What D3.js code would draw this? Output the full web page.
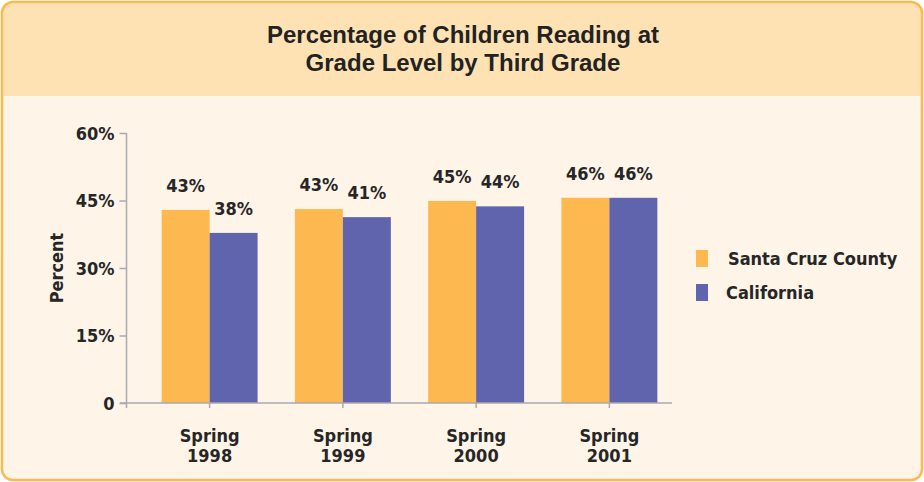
<!DOCTYPE html>
<html>
<head>
<meta charset="utf-8">
<script src="https://cdn.jsdelivr.net/npm/d3@7"></script>
<style>
  body { margin: 0; background: #fff; }
  svg { display: block; }
  .cond { font-family: "Liberation Sans Narrow", "DejaVu Sans Condensed", "Roboto Condensed", sans-serif; font-weight: bold; fill: #262626; }
</style>
</head>
<body>
<svg id="chart" width="924" height="482"></svg>
<script>
// data
let years = ["1998", "1999", "2000", "2001"];
let seriesNames = ["Santa Cruz County", "California"];
let santaCruz = [42.9, 43.1, 44.9, 45.6];
let california = [37.8, 41.3, 43.7, 45.6];
let valueLabels = [["43%", "38%"], ["43%", "41%"], ["45%", "44%"], ["46%", "46%"]];
let yTicks = [0, 15, 30, 45, 60];
let colors = ["#fdb94f", "#6064ac"];

let svg = d3.select("#chart");

// panel + header
svg.append("rect").attr("x", 2).attr("y", 2).attr("width", 920).attr("height", 478)
    .attr("rx", 11).attr("fill", "#fef4e8");
svg.append("path")
    .attr("d", "M2,96 L2,13 Q2,2 13,2 L911,2 Q922,2 922,13 L922,96 Z")
    .attr("fill", "#ffe2b4");
svg.append("rect").attr("x", 2).attr("y", 2).attr("width", 920).attr("height", 478)
    .attr("rx", 11).attr("fill", "none").attr("stroke", "#fdb94f").attr("stroke-width", 2.5);

let title = svg.append("text").attr("text-anchor", "middle")
    .style("font-family", "'Liberation Sans', Arial, sans-serif").style("font-weight", "bold")
    .style("font-size", "24px").attr("fill", "#222");
title.append("tspan").attr("x", 463).attr("y", 43).text("Percentage of Children Reading at");
title.append("tspan").attr("x", 463).attr("y", 71).text("Grade Level by Third Grade");

// scales
let yScale = d3.scaleLinear().domain([0, 60]).range([403, 133]);
let x0 = d3.scaleBand().domain(years).range([143, 676]).paddingInner(0.28).paddingOuter(0.14);
let x1 = d3.scaleBand().domain(seriesNames).range([0, x0.bandwidth()]);

let rows = years.map((y, i) => ({year: y, values: [santaCruz[i], california[i]], labels: valueLabels[i]}));

// bars
let groups = svg.selectAll(".grp").data(rows).enter().append("g")
    .attr("transform", d => "translate(" + x0(d.year) + ",0)");
groups.selectAll("rect").data(d => d.values.map((v, k) => ({name: seriesNames[k], v: v, k: k, label: d.labels[k]})))
    .enter().append("rect")
    .attr("x", d => x1(d.name)).attr("width", x1.bandwidth())
    .attr("y", d => yScale(d.v)).attr("height", d => yScale(0) - yScale(d.v))
    .attr("fill", d => colors[d.k]);
groups.selectAll("text").data(d => d.values.map((v, k) => ({name: seriesNames[k], v: v, label: d.labels[k]})))
    .enter().append("text").attr("class", "cond")
    .attr("text-anchor", "middle").style("font-size", "18px")
    .attr("x", d => x1(d.name) + x1.bandwidth() / 2)
    .attr("y", d => yScale(d.v) - 18)
    .text(d => d.label);

// axes
let axisColor = "#a9a9b1";
let yAxis = d3.axisLeft(yScale).tickValues(yTicks).tickSize(7).tickFormat(d => d === 0 ? "0" : d + "%");
let yg = svg.append("g").attr("transform", "translate(126.5,0)").call(yAxis);
yg.select(".domain").attr("d", "M0,133V408").attr("stroke", axisColor).attr("stroke-width", 1.5);
yg.selectAll(".tick line").attr("stroke", axisColor).attr("stroke-width", 1.5);
yg.selectAll(".tick text").attr("class", "cond").attr("fill", "#262626")
    .style("font-size", "18px").attr("x", -12).attr("dy", "0.36em");

svg.append("line").attr("x1", 120).attr("x2", 672).attr("y1", 403).attr("y2", 403)
    .attr("stroke", axisColor).attr("stroke-width", 1.5);
svg.selectAll(".xtick").data(years).enter().append("line")
    .attr("x1", d => x0(d) + x0.bandwidth() / 2).attr("x2", d => x0(d) + x0.bandwidth() / 2)
    .attr("y1", 403).attr("y2", 408).attr("stroke", axisColor).attr("stroke-width", 1.5);

let xl = svg.selectAll(".xlab").data(years).enter().append("text").attr("class", "cond")
    .attr("text-anchor", "middle").style("font-size", "18px");
xl.append("tspan").attr("x", d => x0(d) + x0.bandwidth() / 2).attr("y", 442).text("Spring");
xl.append("tspan").attr("x", d => x0(d) + x0.bandwidth() / 2).attr("y", 462).text(d => d);

svg.append("text").attr("class", "cond").attr("text-anchor", "middle").style("font-size", "18px")
    .attr("transform", "translate(63,268) rotate(-90)").text("Percent");

// legend
let legend = svg.selectAll(".leg").data(seriesNames).enter().append("g")
    .attr("transform", (d, i) => "translate(696," + (250 + i * 34) + ")");
legend.append("rect").attr("width", 12).attr("height", 17).attr("fill", (d, i) => colors[i]);
legend.append("text").attr("class", "cond").style("font-size", "18px")
    .attr("x", (d, i) => i === 0 ? 32 : 30).attr("y", 8.5).attr("dy", "0.36em").text(d => d);
</script>
</body>
</html>
